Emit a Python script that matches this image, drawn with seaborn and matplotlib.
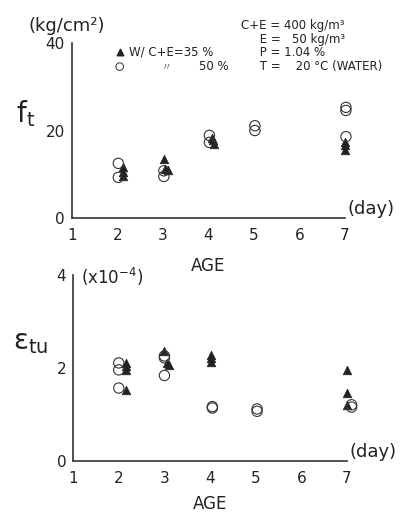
import pandas as pd
import matplotlib.pyplot as plt
import seaborn as sns

# Resistencia a tracao f_t (kg/cm2) - W/(C+E)=35% (triangulos) e 50% (circulos)
ft_dia_35 = [2.12, 2.12, 2.12, 3.02, 3.05, 3.12, 4.08, 4.12, 4.1, 7.0, 7.0, 7.0]
ft_val_35 = [11.6, 10.5, 9.5, 13.4, 11.3, 10.9, 18.4, 17.0, 17.8, 17.3, 16.6, 15.5]
ft_dia_50 = [2.02, 2.02, 3.02, 3.02, 4.02, 4.02, 5.02, 5.02, 7.02, 7.02, 7.02]
ft_val_50 = [12.5, 9.3, 10.8, 9.5, 18.9, 17.3, 21.1, 20.0, 25.3, 24.6, 18.6]

# Deformacao ultima etu (x10^-4)
eps_dia_35 = [2.15, 2.15, 2.15, 2.15, 3.0, 3.05, 3.1, 4.02, 4.02, 4.02, 7.0, 7.0, 7.0]
eps_val_35 = [2.11, 2.04, 1.96, 1.52, 2.37, 2.11, 2.06, 2.29, 2.22, 2.13, 1.96, 1.47, 1.21]
eps_dia_50 = [2.0, 2.0, 2.0, 3.0, 3.0, 3.0, 4.05, 4.05, 5.03, 5.03, 7.1, 7.1]
eps_val_50 = [2.11, 1.96, 1.57, 2.26, 2.22, 1.84, 1.17, 1.14, 1.12, 1.07, 1.21, 1.16]

dias = [1, 2, 3, 4, 5, 6, 7]

df_ft = pd.concat([
    pd.DataFrame({'dia': ft_dia_35, 'valor': ft_val_35, 'wc': '35'}),
    pd.DataFrame({'dia': ft_dia_50, 'valor': ft_val_50, 'wc': '50'})])
df_eps = pd.concat([
    pd.DataFrame({'dia': eps_dia_35, 'valor': eps_val_35, 'wc': '35'}),
    pd.DataFrame({'dia': eps_dia_50, 'valor': eps_val_50, 'wc': '50'})])

sns.set_style('white')
plt.rcParams['font.family'] = ['DejaVu Sans']

fig = plt.figure(figsize=(4.04, 5.18), dpi=100)
ax1 = fig.add_axes([0.178, 0.579, 0.676, 0.338])
ax2 = fig.add_axes([0.181, 0.110, 0.678, 0.359])


def desenhar(ax, df):
    sns.scatterplot(data=df[df['wc'] == '35'], x='dia', y='valor', marker='^',
                    color='#222222', s=38, edgecolor='#222222', linewidth=0.5, ax=ax,
                    legend=False, clip_on=False)
    sns.scatterplot(data=df[df['wc'] == '50'], x='dia', y='valor', marker='o',
                    facecolor='none', edgecolor='#333333', s=55, linewidth=0.8, ax=ax,
                    legend=False, clip_on=False)
    ax.set_xlim(1, 7)
    ax.set_xticks(dias)
    ax.set_xlabel('')
    ax.set_ylabel('')
    for lado in ['top', 'right']:
        ax.spines[lado].set_visible(False)
    for lado in ['left', 'bottom']:
        ax.spines[lado].set_color('#333333')
        ax.spines[lado].set_linewidth(1.2)
    ax.tick_params(axis='both', direction='out', length=3, width=0.8, color='#333333',
                   labelsize=11, labelcolor='#222222', pad=2)
    ax.tick_params(axis='x', pad=4)
    ax.patch.set_alpha(0)


desenhar(ax1, df_ft)
ax1.set_ylim(0, 40)
ax1.set_yticks([0, 20, 40])
ax1.text(-0.16, 1.07, '(kg/cm²)', transform=ax1.transAxes, fontsize=13, color='#222222')
ax1.text(-0.205, 0.55, 'f$_\\mathregular{t}$', transform=ax1.transAxes, fontsize=20, color='#222222')
ax1.text(1.01, 0.0, '(day)', transform=ax1.transAxes, fontsize=13, color='#222222', va='bottom')
ax1.text(0.5, -0.3, 'AGE', transform=ax1.transAxes, fontsize=12, color='#222222', ha='center')

# legenda manual
ax1.scatter([0.175], [0.947], marker='^', color='#222222', s=22, transform=ax1.transAxes)
ax1.scatter([0.175], [0.865], marker='o', facecolor='none', edgecolor='#333333', s=30,
            linewidth=0.7, transform=ax1.transAxes)
ax1.text(0.21, 0.947, 'W/ C+E=35 %', transform=ax1.transAxes, fontsize=8.5, va='center', color='#222222')
ax1.text(0.33, 0.865, '〃', transform=ax1.transAxes, fontsize=7, va='center', color='#555555',
         family=['Noto Sans CJK JP', 'DejaVu Sans'])
ax1.text(0.465, 0.865, '50 %', transform=ax1.transAxes, fontsize=8.5, va='center', color='#222222')

# condicoes do ensaio
cond = ['C+E = 400 kg/m³', '     E =   50 kg/m³', '     P = 1.04 %', '     T =    20 °C (WATER)']
ypos = [1.10, 1.02, 0.945, 0.865]
for linha, yy in zip(cond, ypos):
    ax1.text(0.62, yy, linha, transform=ax1.transAxes, fontsize=8.5,
             va='center', color='#222222')

desenhar(ax2, df_eps)
ax2.set_ylim(0, 4)
ax2.set_yticks([0, 2, 4])
ax2.set_yticklabels(['0', '2', '4'])
ax2.text(0.03, 0.95, '(x10$^{-4}$)', transform=ax2.transAxes, fontsize=12, color='#222222')
ax2.text(-0.22, 0.6, 'ε$_\\mathregular{tu}$', transform=ax2.transAxes, fontsize=20, color='#222222')
ax2.text(1.01, 0.0, '(day)', transform=ax2.transAxes, fontsize=13, color='#222222', va='bottom')
ax2.text(0.5, -0.26, 'AGE', transform=ax2.transAxes, fontsize=12, color='#222222', ha='center')

fig.savefig('out.png', dpi=100)
